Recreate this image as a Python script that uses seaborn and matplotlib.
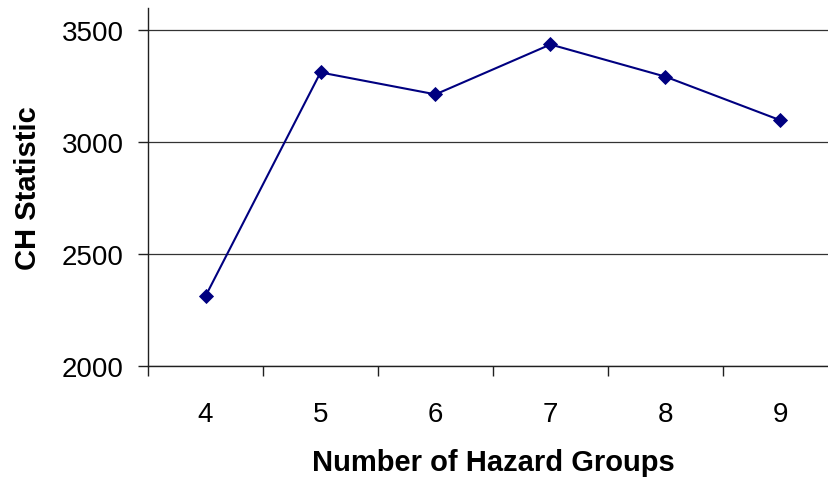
import matplotlib
matplotlib.use("Agg")
import matplotlib.pyplot as plt
import seaborn as sns
import pandas as pd
import numpy as np

# values
groups = ["4", "5", "6", "7", "8", "9"]
ch_stat = [2312, 3312, 3214, 3437, 3293, 3098]

df = pd.DataFrame({"groups": groups, "ch": ch_stat})

sns.set_style("white")
plt.rcParams["font.family"] = ["Liberation Sans", "DejaVu Sans"]
plt.rcParams["text.color"] = "black"
plt.rcParams["axes.labelcolor"] = "black"
plt.rcParams["xtick.color"] = "black"
plt.rcParams["ytick.color"] = "black"

fig = plt.figure(figsize=(8.29, 4.81), dpi=100)
# plot area runs a little past the right edge, like the original
ax = fig.add_axes([148 / 829, 114 / 481, 690 / 829, 358 / 481])

sns.lineplot(data=df, x="groups", y="ch", ax=ax, color="#000080",
             linewidth=1.5, marker="D", markersize=7.5,
             markeredgecolor="#000080", markeredgewidth=0.6, zorder=3)

ax.set_ylim(2000, 3600)
ax.set_yticks([2000, 2500, 3000, 3500])
ax.set_xlim(-0.5, len(groups) - 0.5)
ax.set_xticks(range(len(groups)))
ax.set_xticklabels(groups)
ax.set_xticks(np.arange(-0.5, len(groups), 1.0), minor=True)

ax.yaxis.grid(True, color="#333333", linewidth=0.9)
ax.xaxis.grid(False)
ax.set_axisbelow(True)

for side in ["top", "right"]:
    ax.spines[side].set_visible(False)
for side in ["left", "bottom"]:
    ax.spines[side].set_color("#202020")
    ax.spines[side].set_linewidth(1.0)

ax.tick_params(axis="y", which="major", left=True, direction="out",
               length=7.2, width=1.0, color="#202020", labelsize=20, pad=10.5)
ax.tick_params(axis="x", which="major", bottom=True, length=0,
               labelsize=20, pad=25)
ax.tick_params(axis="x", which="minor", bottom=True, direction="out",
               length=7.2, width=1.0, color="#202020")

ax.set_xlabel("Number of Hazard Groups", fontsize=21, fontweight="bold",
              labelpad=15)
ax.set_ylabel("CH Statistic", fontsize=21, fontweight="bold", labelpad=14)

fig.savefig("out.png", dpi=100)
